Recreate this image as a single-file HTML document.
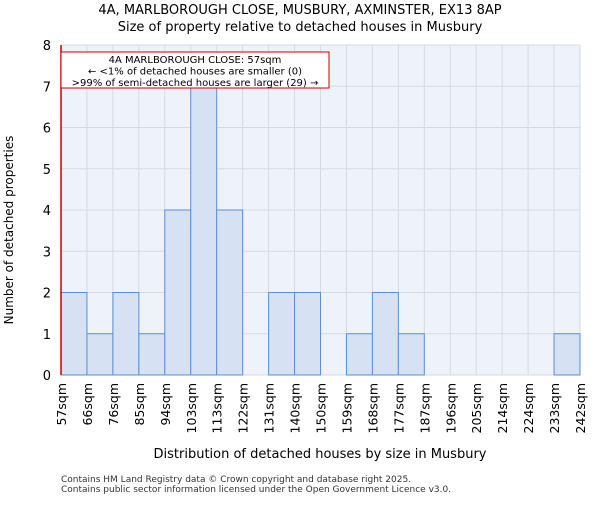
<!DOCTYPE html>
<html><head><meta charset="utf-8"><style>
body{margin:0;background:#fff;font-family:"Liberation Sans","DejaVu Sans",sans-serif}
svg text{font-family:"DejaVu Sans","Liberation Sans",sans-serif}
</style></head><body>
<svg id="c" width="600" height="500"></svg>
<script>
const categories=["57sqm","66sqm","76sqm","85sqm","94sqm","103sqm","113sqm","122sqm","131sqm","140sqm","150sqm","159sqm","168sqm","177sqm","187sqm","196sqm","205sqm","214sqm","224sqm","233sqm","242sqm"];
const counts=[2,1,2,1,4,7,4,0,2,2,0,1,2,1,0,0,0,0,0,1];
const yTicks=[0,1,2,3,4,5,6,7,8];
const ns="http://www.w3.org/2000/svg",svg=document.getElementById('c');
const L=61,R=580,T=45,B=375,n=counts.length,bw=(R-L)/n;
const x=i=>L+i*bw, y=v=>B-(v/8)*(B-T);
function mk(t,a,p){const e=document.createElementNS(ns,t);for(const k in a)e.setAttribute(k,a[k]);(p||svg).appendChild(e);return e;}
const bg=mk('rect',{x:L,y:T,width:R-L,height:B-T,fill:'#eef2fb'});


for(let i=0;i<=n;i++){const g=mk('line',{x1:x(i),x2:x(i),y1:T,y2:B,stroke:'#d5d9e2','stroke-width':1});

}
yTicks.forEach(v=>{const g=mk('line',{x1:L,x2:R,y1:y(v),y2:y(v),stroke:'#d5d9e2','stroke-width':1});


const t=mk('text',{x:L-10,y:y(v)+5,'text-anchor':'end','font-size':13,fill:'#000'});t.textContent=v;

});
counts.forEach((c,i)=>{if(c<=0)return;const r=mk('rect',{x:x(i),y:y(c),width:bw,height:B-y(c),fill:'#d6e1f3',stroke:'#5b8fd6','stroke-width':1});

});
categories.forEach((c,i)=>{const t=mk('text',{transform:`translate(${x(i)+5},${B+8}) rotate(-90)`,'text-anchor':'end','font-size':12.5,fill:'#000'});t.textContent=c;

});
const pl=mk('line',{x1:L,x2:L,y1:T,y2:B,stroke:'#cc0000','stroke-width':1.5});


const box=mk('rect',{x:L,y:52,width:268,height:36,fill:'#fff',stroke:'#cc0000','stroke-width':1});


["4A MARLBOROUGH CLOSE: 57sqm","← <1% of detached houses are smaller (0)",">99% of semi-detached houses are larger (29) →"].forEach((s,i)=>{const t=mk('text',{x:195,y:63+i*11.5,'text-anchor':'middle','font-size':10,fill:'#000'});t.textContent=s;

});
[["4A, MARLBOROUGH CLOSE, MUSBURY, AXMINSTER, EX13 8AP",14],["Size of property relative to detached houses in Musbury",31]].forEach(([s,yy])=>{const t=mk('text',{x:300,y:yy,'text-anchor':'middle','font-size':13,fill:'#000'});t.textContent=s;

});
const xt=mk('text',{x:320,y:458,'text-anchor':'middle','font-size':13,fill:'#000'});xt.textContent="Distribution of detached houses by size in Musbury";


const yt=mk('text',{transform:'translate(13,230) rotate(-90)','text-anchor':'middle','font-size':12,fill:'#000'});yt.textContent="Number of detached properties";


["Contains HM Land Registry data © Crown copyright and database right 2025.","Contains public sector information licensed under the Open Government Licence v3.0."].forEach((s,i)=>{const t=mk('text',{x:61,y:482+i*10,'font-size':9,fill:'#333'});t.textContent=s;

});
</script>
</body></html>
